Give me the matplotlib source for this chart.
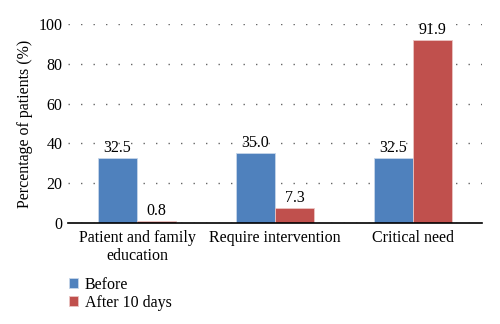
import matplotlib.pyplot as plt
import numpy as np

categories = ["Patient and family\neducation", "Require intervention", "Critical need"]
before = [32.5, 35.0, 32.5]
after = [0.8, 7.3, 91.9]
series_names = ["Before", "After 10 days"]
y_ticks = [0, 20, 40, 60, 80, 100]

plt.rcParams['font.family'] = ['Liberation Serif', 'DejaVu Serif']

fig = plt.figure(figsize=(5, 3.24), dpi=100)
ax = fig.add_axes([0.136, 0.312, 0.828, 0.614])

x = np.arange(len(categories))
w = 0.285
b1 = ax.bar(x - w / 2, before, w, color="#4f81bd", edgecolor="#c7d6ea", linewidth=0.6, label=series_names[0], zorder=3)
b2 = ax.bar(x + w / 2, after, w, color="#c0504d", edgecolor="#eac5c4", linewidth=0.6, label=series_names[1], zorder=3)

for bars in (b1, b2):
    for r in bars:
        h = r.get_height()
        ax.text(r.get_x() + r.get_width() / 2, h + 1, f"{h:.1f}", ha="center", va="bottom", fontsize=11.5)

ax.set_xlim(-0.5, 2.5)
ax.set_ylim(0, 100)
ax.set_yticks(y_ticks)
ax.set_xticks(x)
ax.set_xticklabels(categories, fontsize=11.5, linespacing=1.2)
ax.tick_params(axis="both", length=0, labelsize=11.5)
ax.tick_params(axis="x", pad=5)
ax.tick_params(axis="y", pad=4)
ax.yaxis.grid(True, linestyle=(0, (1, 8)), color="#666666", linewidth=1.0, zorder=0)
for s in ["top", "right", "left"]:
    ax.spines[s].set_visible(False)
ax.spines["bottom"].set_linewidth(1.2)
ax.spines["bottom"].set_zorder(4)
ax.set_ylabel("Percentage of patients (%)", fontsize=11.5, labelpad=4)

fig.legend(handles=[b1, b2], loc="upper left", bbox_to_anchor=(0.125, 0.165),
           frameon=False, fontsize=11.5, handlelength=0.6, handleheight=0.6,
           handletextpad=0.4, labelspacing=0.1, borderaxespad=0)

fig.savefig("out.png", dpi=100)
